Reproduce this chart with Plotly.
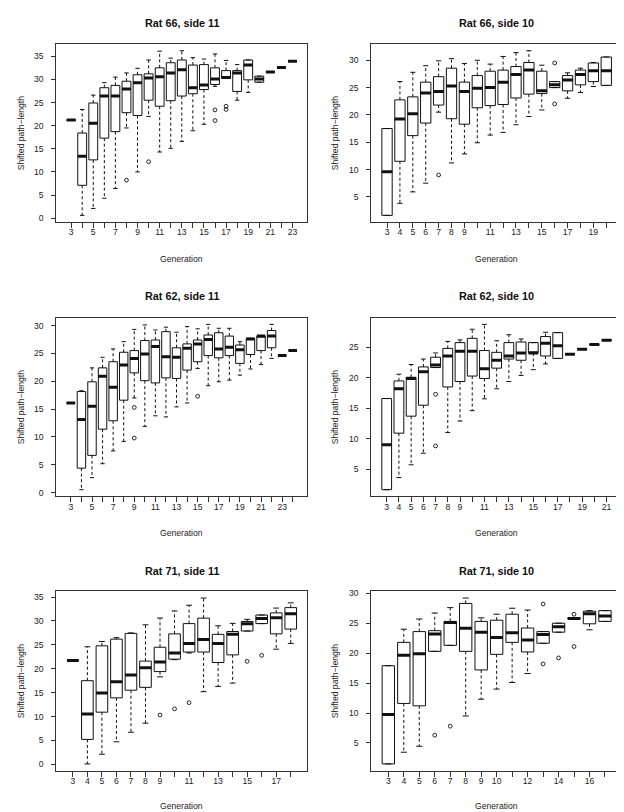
import plotly.graph_objects as go

# ---------------- data ----------------
# Rat 66, side 11
r66s11_gen = [3, 4, 5, 6, 7, 8, 9, 10, 11, 12, 13, 14, 15, 16, 17, 18, 19, 20, 21, 22, 23]
r66s11_lab = ["3", "", "5", "", "7", "", "9", "", "11", "", "13", "", "15", "", "17", "", "19", "", "21", "", "23"]
r66s11_med = [21.2, 13.4, 20.5, 26.4, 26.4, 27.9, 29.3, 30.3, 30.6, 31.4, 32.1, 28.2, 28.8, 30.1, 30.4, 31.4, 33.1, 30.1, 31.6, 32.6, 33.9]
r66s11_q1 = [21.2, 7.1, 12.6, 17.3, 18.7, 22.8, 22.2, 25.5, 24.2, 25.4, 26.4, 26.9, 27.8, 28.9, 30.2, 27.4, 29.9, 29.4, 31.6, 32.6, 33.9]
r66s11_q3 = [21.2, 18.4, 24.9, 28.2, 28.7, 29.6, 31.0, 31.2, 32.5, 33.6, 34.2, 33.1, 33.2, 32.5, 31.9, 31.9, 34.2, 30.7, 31.6, 32.6, 33.9]
r66s11_lo = [21.2, 0.6, 2.1, 4.3, 6.4, 19.5, 10.0, 22.0, 14.3, 15.1, 16.6, 18.9, 20.3, 28.5, 30.2, 25.5, 27.2, 29.4, 31.6, 32.6, 33.9]
r66s11_hi = [21.2, 23.5, 26.6, 29.3, 30.5, 31.4, 32.4, 34.2, 36.1, 34.6, 36.2, 34.7, 34.4, 35.5, 34.1, 33.2, 34.2, 30.7, 31.6, 32.6, 33.9]
r66s11_out_x = [8, 10, 16, 16, 17, 17]
r66s11_out_y = [8.2, 12.2, 23.4, 21.1, 24.2, 23.5]

# Rat 66, side 10
r66s10_gen = [3, 4, 5, 6, 7, 8, 9, 10, 11, 12, 13, 14, 15, 16, 17, 18, 19, 20]
r66s10_lab = ["3", "4", "5", "6", "7", "8", "9", "", "11", "", "13", "", "15", "", "17", "", "19", ""]
r66s10_med = [9.6, 19.25, 20.2, 24.0, 24.3, 25.3, 24.3, 24.9, 25.0, 26.0, 27.4, 28.2, 24.4, 25.5, 26.4, 27.4, 28.1, 28.1]
r66s10_q1 = [1.6, 11.5, 16.2, 18.5, 21.8, 19.3, 18.3, 21.3, 21.7, 21.9, 23.1, 23.8, 23.9, 25.0, 24.4, 25.5, 26.1, 25.4]
r66s10_q3 = [17.5, 22.75, 23.3, 26.0, 27.0, 28.55, 26.0, 27.2, 28.0, 28.2, 28.85, 29.6, 28.0, 26.1, 27.2, 28.2, 29.5, 30.6]
r66s10_lo = [1.6, 3.8, 5.9, 7.5, 20.5, 11.2, 12.85, 14.9, 16.3, 16.8, 18.2, 19.7, 20.9, 25.0, 23.05, 24.1, 25.2, 25.4]
r66s10_hi = [17.5, 26.1, 27.8, 29.0, 29.9, 30.3, 29.4, 30.0, 29.3, 30.7, 31.4, 31.75, 29.1, 26.1, 27.7, 28.55, 29.6, 30.6]
r66s10_out_x = [7, 16, 16]
r66s10_out_y = [9.0, 29.5, 22.0]

# Rat 62, side 11
r62s11_gen = [3, 4, 5, 6, 7, 8, 9, 10, 11, 12, 13, 14, 15, 16, 17, 18, 19, 20, 21, 22, 23, 24]
r62s11_lab = ["3", "", "5", "", "7", "", "9", "", "11", "", "13", "", "15", "", "17", "", "19", "", "21", "", "23", ""]
r62s11_med = [16.1, 13.15, 15.5, 20.9, 18.9, 22.9, 24.1, 24.9, 26.25, 24.4, 24.3, 25.9, 26.7, 27.5, 25.8, 26.1, 25.65, 27.6, 28.1, 28.1, 24.6, 25.5]
r62s11_q1 = [16.1, 4.4, 6.7, 11.4, 12.9, 16.6, 21.5, 20.1, 19.7, 20.6, 20.5, 22.0, 23.5, 24.6, 24.2, 24.6, 23.2, 24.8, 25.5, 26.0, 24.6, 25.5]
r62s11_q3 = [16.1, 18.15, 19.9, 22.4, 23.5, 25.2, 25.5, 27.3, 27.4, 28.9, 26.0, 26.7, 27.4, 28.3, 28.7, 28.1, 26.5, 27.7, 28.1, 29.1, 24.6, 25.5]
r62s11_lo = [16.1, 0.54, 2.7, 5.2, 7.5, 9.2, 17.0, 11.9, 13.8, 13.6, 15.4, 16.1, 22.3, 19.2, 19.9, 20.2, 21.1, 22.2, 23.0, 24.1, 24.6, 25.5]
r62s11_hi = [16.1, 18.3, 22.4, 24.3, 25.8, 27.1, 29.3, 30.1, 29.2, 29.7, 28.8, 29.8, 29.4, 30.2, 29.5, 29.5, 27.1, 27.7, 28.1, 30.2, 24.6, 25.5]
r62s11_out_x = [9, 9, 15]
r62s11_out_y = [15.3, 9.8, 17.3]

# Rat 62, side 10
r62s10_gen = [3, 4, 5, 6, 7, 8, 9, 10, 11, 12, 13, 14, 15, 16, 17, 18, 19, 20, 21]
r62s10_lab = ["3", "4", "5", "6", "7", "8", "9", "", "11", "", "13", "", "15", "", "17", "", "19", "", "21"]
r62s10_med = [9.0, 18.2, 19.9, 21.0, 22.1, 23.6, 24.4, 24.4, 21.5, 22.9, 23.6, 24.1, 24.1, 25.7, 25.3, 23.9, 24.7, 25.5, 26.2]
r62s10_q1 = [1.6, 10.9, 13.7, 15.5, 21.7, 18.5, 19.4, 20.3, 19.9, 21.6, 23.1, 22.9, 24.1, 23.6, 23.2, 23.9, 24.7, 25.5, 26.2]
r62s10_q3 = [16.6, 19.5, 20.1, 21.8, 23.4, 24.85, 25.8, 26.5, 24.5, 24.2, 25.8, 25.9, 25.8, 26.8, 27.45, 23.9, 24.7, 25.5, 26.2]
r62s10_lo = [1.6, 3.6, 5.7, 7.6, 21.7, 11.0, 12.9, 14.6, 16.55, 18.2, 19.4, 20.4, 21.35, 22.3, 23.2, 23.9, 24.7, 25.5, 26.2]
r62s10_hi = [16.6, 20.6, 22.2, 23.1, 24.1, 26.0, 26.25, 28.0, 28.8, 26.1, 27.1, 26.4, 25.8, 27.5, 27.45, 23.9, 24.7, 25.5, 26.2]
r62s10_out_x = [7, 7]
r62s10_out_y = [17.3, 8.8]

# Rat 71, side 11
r71s11_gen = [3, 4, 5, 6, 7, 8, 9, 10, 11, 12, 13, 14, 15, 16, 17, 18]
r71s11_lab = ["3", "4", "5", "6", "7", "8", "9", "", "11", "", "13", "", "15", "", "17", ""]
r71s11_med = [21.75, 10.5, 14.9, 17.3, 18.7, 20.2, 21.4, 23.3, 25.3, 26.1, 25.3, 27.2, 29.4, 30.5, 30.7, 31.5]
r71s11_q1 = [21.75, 5.2, 10.9, 13.9, 15.5, 16.1, 19.4, 22.0, 23.5, 23.5, 21.3, 22.9, 27.9, 29.45, 27.3, 28.3]
r71s11_q3 = [21.75, 17.5, 24.8, 26.2, 27.4, 21.6, 24.5, 27.3, 29.45, 30.6, 27.2, 27.8, 29.9, 31.25, 31.7, 32.8]
r71s11_lo = [21.75, 0.07, 2.1, 4.7, 6.7, 8.6, 18.3, 21.9, 23.3, 15.2, 16.3, 17.0, 27.9, 29.45, 24.1, 25.3]
r71s11_hi = [21.75, 24.6, 25.7, 26.5, 27.5, 29.2, 30.6, 32.1, 33.3, 34.8, 29.0, 29.5, 30.35, 31.25, 32.7, 33.8]
r71s11_out_x = [9, 10, 11, 15, 16]
r71s11_out_y = [10.3, 11.6, 12.9, 21.55, 22.8]

# Rat 71, side 10
r71s10_gen = [3, 4, 5, 6, 7, 8, 9, 10, 11, 12, 13, 14, 15, 16, 17]
r71s10_lab = ["3", "4", "5", "6", "7", "8", "9", "10", "", "12", "", "14", "", "16", ""]
r71s10_med = [9.75, 19.65, 19.9, 23.2, 25.1, 24.15, 23.5, 22.6, 23.4, 22.2, 23.1, 24.4, 25.8, 26.6, 26.2]
r71s10_q1 = [1.5, 11.6, 11.2, 20.3, 21.3, 20.3, 17.2, 19.8, 21.8, 20.2, 21.65, 23.5, 25.7, 24.9, 25.3]
r71s10_q3 = [17.9, 21.8, 23.6, 23.75, 25.3, 28.3, 25.3, 25.5, 26.5, 24.2, 23.6, 25.0, 25.9, 27.0, 27.1]
r71s10_lo = [1.5, 3.45, 4.45, 20.3, 21.3, 9.5, 12.3, 14.0, 15.1, 16.6, 21.65, 23.5, 25.7, 23.9, 25.3]
r71s10_hi = [17.9, 24.0, 25.7, 26.7, 27.6, 29.2, 25.9, 26.5, 27.5, 27.2, 23.6, 25.0, 25.9, 27.1, 27.1]
r71s10_out_x = [6, 7, 13, 13, 14, 15, 15]
r71s10_out_y = [6.3, 7.8, 28.2, 18.2, 19.2, 26.5, 21.1]

titles = ["Rat 66, side 11", "Rat 66, side 10", "Rat 62, side 11",
          "Rat 62, side 10", "Rat 71, side 11", "Rat 71, side 10"]
x_title = "Generation"
y_title = "Shifted path\u2212length"

panels = [
    (r66s11_gen, r66s11_lab, r66s11_med, r66s11_q1, r66s11_q3, r66s11_lo, r66s11_hi, r66s11_out_x, r66s11_out_y),
    (r66s10_gen, r66s10_lab, r66s10_med, r66s10_q1, r66s10_q3, r66s10_lo, r66s10_hi, r66s10_out_x, r66s10_out_y),
    (r62s11_gen, r62s11_lab, r62s11_med, r62s11_q1, r62s11_q3, r62s11_lo, r62s11_hi, r62s11_out_x, r62s11_out_y),
    (r62s10_gen, r62s10_lab, r62s10_med, r62s10_q1, r62s10_q3, r62s10_lo, r62s10_hi, r62s10_out_x, r62s10_out_y),
    (r71s11_gen, r71s11_lab, r71s11_med, r71s11_q1, r71s11_q3, r71s11_lo, r71s11_hi, r71s11_out_x, r71s11_out_y),
    (r71s10_gen, r71s10_lab, r71s10_med, r71s10_q1, r71s10_q3, r71s10_lo, r71s10_hi, r71s10_out_x, r71s10_out_y),
]

# ---------------- layout geometry (pixels) ----------------
W, H = 624, 812
COLS = [(48.3, 299.3), (363.3, 614.0)]
ROWS = [(33.3, 212.0), (308.3, 487.7), (583.3, 763.3)]
TITLE_Y = [12.3, 286.7, 562.3]
XLAB_Y = [249.3, 524.3, 799.0]
YLAB_X = [13.3, 327.3]
FONT = "Liberation Sans, Arial, sans-serif"
INK = "#111111"
BOXW = 0.8
CAPW = 0.4

fig = go.Figure()
layout = dict(width=W, height=H, margin=dict(l=0, r=0, t=0, b=0),
              paper_bgcolor="white", plot_bgcolor="white", showlegend=False,
              font=dict(family=FONT, color="#222"))
annotations = []

for i, (gen, lab, med, q1, q3, lo, hi, ox, oy) in enumerate(panels):
    r, c = divmod(i, 2)
    xa = "x" if i == 0 else f"x{i+1}"
    ya = "y" if i == 0 else f"y{i+1}"
    xk = "xaxis" if i == 0 else f"xaxis{i+1}"
    yk = "yaxis" if i == 0 else f"yaxis{i+1}"

    # boxes (hinges + median), whiskers drawn separately in R style
    fig.add_trace(go.Box(x=gen, q1=q1, median=med, q3=q3, lowerfence=q1, upperfence=q3,
                         width=BOXW, whiskerwidth=0, boxpoints=False,
                         fillcolor="white", line=dict(color=INK, width=1),
                         hoverinfo="skip", xaxis=xa, yaxis=ya))
    # dashed whiskers
    wx, wy = [], []
    for g, a, b, l, h in zip(gen, q1, q3, lo, hi):
        wx += [g, g, None, g, g, None]
        wy += [b, h, None, a, l, None]
    fig.add_trace(go.Scatter(x=wx, y=wy, mode="lines", line=dict(color=INK, width=1, dash="3px,2.5px"),
                             hoverinfo="skip", xaxis=xa, yaxis=ya))
    # staples
    sx, sy = [], []
    for g, l, h in zip(gen, lo, hi):
        sx += [g - CAPW / 2, g + CAPW / 2, None, g - CAPW / 2, g + CAPW / 2, None]
        sy += [h, h, None, l, l, None]
    fig.add_trace(go.Scatter(x=sx, y=sy, mode="lines", line=dict(color=INK, width=1),
                             hoverinfo="skip", xaxis=xa, yaxis=ya))
    # thick medians
    mx, my = [], []
    for g, m in zip(gen, med):
        mx += [g - BOXW / 2, g + BOXW / 2, None]
        my += [m, m, None]
    fig.add_trace(go.Scatter(x=mx, y=my, mode="lines", line=dict(color=INK, width=3),
                             hoverinfo="skip", xaxis=xa, yaxis=ya))
    # outliers
    fig.add_trace(go.Scatter(x=ox, y=oy, mode="markers",
                             marker=dict(symbol="circle-open", size=3.8, color=INK, line=dict(width=0.9)),
                             hoverinfo="skip", xaxis=xa, yaxis=ya))

    # R-style ranges (4% extension)
    n = len(gen)
    xr = [gen[0] - 0.5 - 0.04 * n, gen[-1] + 0.5 + 0.04 * n]
    vmin = min(lo + oy)
    vmax = max(hi + oy)
    d = vmax - vmin
    yr = [vmin - 0.04 * d, vmax + 0.04 * d]

    x0, x1 = COLS[c]
    y0, y1 = ROWS[r]
    tickfont = dict(family=FONT, size=8.6, color="#222")
    layout[xk] = dict(domain=[x0 / W, x1 / W], range=xr, anchor=ya,
                      tickmode="array", tickvals=gen, ticktext=lab,
                      ticks="outside", ticklen=5, tickwidth=1, tickcolor="#333",
                      showline=True, mirror=True, linecolor="#333", linewidth=1,
                      showgrid=False, zeroline=False, tickfont=tickfont,
                      ticklabelstandoff=-3)
    layout[yk] = dict(domain=[1 - y1 / H, 1 - y0 / H], range=yr, anchor=xa,
                      tick0=0, dtick=5, ticks="outside", ticklen=4, tickwidth=1, tickcolor="#333",
                      showline=True, mirror=True, linecolor="#333", linewidth=1,
                      showgrid=False, zeroline=False, tickfont=tickfont,
                      ticklabelstandoff=6)

    xc = (x0 + x1) / 2 / W
    annotations.append(dict(text="<b>" + titles[i] + "</b>", x=xc, y=1 - TITLE_Y[r] / H,
                            xref="paper", yref="paper", showarrow=False,
                            xanchor="center", yanchor="middle",
                            font=dict(family=FONT, size=10.8, color="#111")))
    annotations.append(dict(text=x_title, x=xc, y=1 - XLAB_Y[r] / H,
                            xref="paper", yref="paper", showarrow=False,
                            xanchor="center", yanchor="middle",
                            font=dict(family=FONT, size=8.6, color="#222")))
    annotations.append(dict(text=y_title, x=YLAB_X[c] / W, y=1 - (y0 + y1) / 2 / H,
                            xref="paper", yref="paper", showarrow=False, textangle=-90,
                            xanchor="center", yanchor="middle",
                            font=dict(family=FONT, size=8.6, color="#222")))

layout["annotations"] = annotations
fig.update_layout(**layout)
fig.write_html("out.html")
